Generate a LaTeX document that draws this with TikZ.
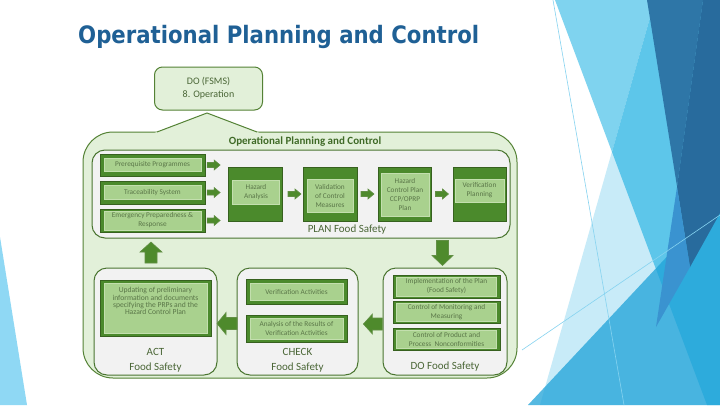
\documentclass[tikz,border=0pt]{standalone}
\usepackage{fontspec}
\setmainfont{Carlito}
\newfontfamily\titlefont[FakeStretch=0.885]{DejaVu Sans}
\usetikzlibrary{calc}
\definecolor{titleblue}{HTML}{1F6095}
\definecolor{callfill}{HTML}{E2F0D9}
\definecolor{callline}{HTML}{548235}
\definecolor{panelfill}{HTML}{F2F2F2}
\definecolor{panelline}{HTML}{4A7530}
\definecolor{dkgreen}{HTML}{4B8A2C}
\definecolor{dkline}{HTML}{37611F}
\definecolor{ltgreen}{HTML}{A9D18E}
\definecolor{ltline}{HTML}{C3DFAE}
\definecolor{smalltext}{HTML}{5A7648}
\definecolor{lbltext}{HTML}{4A6636}
\definecolor{boldtext}{HTML}{3F6A27}
\definecolor{arrfill}{HTML}{4E8A2C}
\definecolor{arrline}{HTML}{628F45}
\definecolor{bgpale}{HTML}{C8EBF8}
\definecolor{bglight}{HTML}{7FD3EF}
\definecolor{bgmed}{HTML}{5DC6EA}
\definecolor{bgstrong}{HTML}{1EA2D8}
\definecolor{bgdark}{HTML}{2E76A7}
\definecolor{bgdarker}{HTML}{286B9D}
\definecolor{bgstrip}{HTML}{3A93D0}
\definecolor{bgline}{HTML}{86D3F0}
\definecolor{bgleft}{HTML}{8FD8F4}
\newcommand\blockarr[6]{%
  \begin{scope}[shift={#1},rotate=#2]
    \filldraw[barr] ({-#3/2},{-#4/2}) -- ({#3/2-#6},{-#4/2}) -- ({#3/2-#6},{-#5/2})
      -- ({#3/2},0) -- ({#3/2-#6},{#5/2}) -- ({#3/2-#6},{#4/2}) -- ({-#3/2},{#4/2}) -- cycle;
  \end{scope}}
\tikzset{
  sz/.style args={#1/#2}{minimum width=#1pt, minimum height=#2pt},
  dbox/.style={draw=dkline, fill=dkgreen, line width=0.8pt, inner sep=0pt},
  lbox/.style={draw=ltline, fill=ltgreen, line width=0.4pt, inner sep=0pt, align=center,
    text=smalltext, font=\fontsize{7.3}{9}\selectfont},
  panel/.style={draw=panelline, fill=panelfill, line width=1pt, rounded corners=13pt, inner sep=0pt},
  lbl/.style={text=lbltext, font=\fontsize{11}{15}\selectfont, align=center, inner sep=0pt},
  barr/.style={fill=arrfill, draw=arrline, line width=0.6pt},
}
\begin{document}
\begin{tikzpicture}[x=1pt,y=-1pt]
\useasboundingbox (0,0) rectangle (720,405);
% background decoration
\fill[white] (0,0) rectangle (720,405);
\fill[bgleft] (0,237) -- (27,405) -- (0,405) -- cycle;
\fill[bgpale] (655,0) -- (720,0) -- (720,405) -- (540,405) -- cycle;
\fill[bglight] (555,0) -- (655,0) -- (612,152) -- cycle;
\fill[bgmed] (612,152) -- (655,0) -- (720,0) -- (720,405) -- (707,405) -- cycle;
\fill[bgstrong, opacity=0.75] (528,405) -- (720,200) -- (720,405) -- cycle;
\fill[bgdark] (647,0) -- (703,0) -- (677,187) -- (690,267) -- cycle;
\fill[bgdarker] (703,0) -- (720,0) -- (720,213) -- (690,267) -- (677,187) -- cycle;
\fill[bgstrip] (677,187) -- (690,267) -- (656,327) -- cycle;
\draw[bgline, line width=0.6pt] (553,0) -- (624,405);
\draw[bgline, line width=0.6pt] (522,350) -- (720,215);
% title
\node[text=titleblue, font=\titlefont\bfseries\fontsize{24}{28}\selectfont, anchor=base west, inner sep=0pt] (title) at (78,43) {Operational Planning and Control};
% top box
\node[draw=callline, fill=callfill, line width=1pt, rounded corners=8pt, sz=108/43, lbl, font=\fontsize{10}{14.5}\selectfont] (fsms) at (208.5,88.5) {DO (FSMS)\\[-1.5pt]8. Operation};
% callout
\path[fill=callfill, draw=callline, line width=1pt, rounded corners=30pt] (83,132) rectangle (517,378);
\fill[callfill] (154,133.2) -- (207,113) -- (260,133.2) -- cycle;
\coordinate (ptip) at (207,113);
\draw[callline, line width=1pt] (157,132) -- (ptip) -- (257,132);
\node[font=\bfseries\fontsize{11}{13}\selectfont, text=boldtext, inner sep=0pt] (opc) at (305,142) {Operational Planning and Control};
% PLAN panel
\node[panel, sz=418/88] (plan) at (301,194) {};
\node[lbl] (planlbl) at (347,230) {PLAN Food Safety};
\node[dbox, sz=105/22] (prp) at (152.5,165) {};
\node[lbox, sz=97/13] (prpt) at (prp.center) {Prerequisite Programmes};
\node[dbox, sz=105/23] (trace) at (152.5,192.5) {};
\node[lbox, sz=97/14] (tracet) at (trace.center) {Traceability System};
\node[dbox, sz=105/23] (emerg) at (152.5,220.5) {};
\node[lbox, sz=97/19] (emergt) at (emerg.center) {Emergency Preparedness \&\\Response};
\node[dbox, sz=54/54] (ha) at (255,194) {};
\node[lbox, sz=47/24] (hat) at (256,192) {Hazard\\Analysis};
\node[dbox, sz=54/54] (val) at (330,194) {};
\node[lbox, sz=46/33] (valt) at (330,195.5) {Validation\\of Control\\Measures};
\node[dbox, sz=53/54] (hcp) at (404.5,194) {};
\node[lbox, sz=48/43] (hcpt) at (405,194.5) {Hazard\\Control Plan\\CCP/OPRP\\Plan};
\node[dbox, sz=53/54] (vp) at (479.5,194) {};
\node[lbox, sz=49/23] (vpt) at (479.5,190.5) {Verification\\Planning};
\blockarr{($(prp.east)!0.37!(prp.east -| ha.west)$)}{0}{13}{5}{10}{6}
\blockarr{($(trace.east)!0.37!(trace.east -| ha.west)$)}{0}{13}{5}{10}{6}
\blockarr{($(emerg.east)!0.37!(emerg.east -| ha.west)$)}{0}{13}{5}{10}{6}
\blockarr{($(ha.east)!0.6!(val.west)$)}{0}{13}{5}{10}{6}
\blockarr{($(val.east)!0.5!(hcp.west)$)}{0}{13}{5}{10}{6}
\blockarr{($(hcp.east)!0.5!(vp.west)$)}{0}{13}{5}{10}{6}
% bottom panels
\node[panel, sz=123/107] (act) at (155.5,321.5) {};
\node[panel, sz=121/107] (check) at (297.5,321.5) {};
\node[panel, sz=124/107] (dop) at (445,321.5) {};
% ACT
\node[dbox, sz=111/56] (upd) at (155.5,308) {};
\node[lbox, sz=103/50, font=\fontsize{7.6}{7.4}\selectfont] (updt) at (upd.center) {\parbox[c][48pt][t]{101pt}{\centering\vspace*{3.5pt}Updating of preliminary\\information and documents\\specifying the PRPs and the\\Hazard Control Plan}};
\node[lbl] (actlbl) at (155.5,360.5) {ACT\\Food Safety};
% CHECK
\node[dbox, sz=101/25] (va) at (296.5,291.5) {};
\node[lbox, sz=93/17] (vat) at (va.center) {Verification Activities};
\node[dbox, sz=101/27] (an) at (296.5,328.5) {};
\node[lbox, sz=93/21] (ant) at (an.center) {Analysis of the Results of\\Verification Activities};
\node[lbl] (checklbl) at (297.5,360.5) {CHECK\\Food Safety};
% DO
\node[dbox, sz=107/23] (impl) at (446.5,286.5) {};
\node[lbox, sz=100/19] (implt) at (impl.center) {Implementation of the Plan\\(Food Safety)};
\node[dbox, sz=107/22] (mon) at (446.5,312) {};
\node[lbox, sz=100/18] (mont) at (mon.center) {Control of Monitoring and\\Measuring};
\node[dbox, sz=107/22] (prod) at (446.5,339) {};
\node[lbox, sz=100/18] (prodt) at (prod.center) {Control of Product and\\Process\ \ Nonconformities};
\node[lbl] (dolbl) at (445,367) {DO Food Safety};
% big arrows
\blockarr{($(dop.north |- plan.south)!0.5!(dop.north)+(-2.5,0)$)}{-90}{25}{12}{21}{10}
\blockarr{($(dop.west)!0.4!(check.east |- dop.west)+(0,2.5)$)}{180}{19}{12}{20}{9}
\blockarr{($(check.west)!0.5!(act.east)+(0,2)$)}{180}{20}{12}{22}{9}
\blockarr{($(act.north)+(-4.5,-15)$)}{90}{21}{12}{22}{10}
\end{tikzpicture}
\end{document}
